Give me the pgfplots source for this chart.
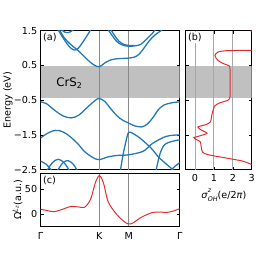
\documentclass[border=0pt]{standalone}
\usepackage{amsmath}
\usepackage{pgfplots}
\pgfplotsset{compat=1.18}
\usepackage{fontspec}
\setmainfont{DejaVu Sans}
\definecolor{bandblue}{HTML}{2277B6}
\definecolor{cred}{HTML}{E22B2B}
\definecolor{gapgray}{HTML}{C0C0C0}
\definecolor{vline}{HTML}{8A8A8A}
\definecolor{gline}{HTML}{A8A8A8}
\begin{document}
\fontsize{9.8}{11}\selectfont
\begin{tikzpicture}
\pgfplotsset{
  myax/.style={scale only axis, anchor=south west, tick align=inside, tick pos=both,
    major tick length=3bp, axis line style={line width=0.8pt},
    every tick/.style={black, line width=0.6pt},
    /pgf/number format/assume math mode=true,
    tick label style={font=\fontsize{9.8}{11}\selectfont},
    label style={font=\fontsize{9.8}{11}\selectfont},
    clip=true},
  band/.style={bandblue, line width=1.3pt, smooth, tension=0.55},
}
% ---------------- (a) band structure
\begin{axis}[myax, at={(41bp,86bp)}, width=141bp, height=141bp,
  xmin=0, xmax=2.366, ymin=-2.5, ymax=1.5,
  xtick={0,1,1.5,2.366}, xticklabels={},
  ytick={-2.5,-1.5,-0.5,0.5,1.5}, yticklabels={−2.5,−1.5,−0.5,0.5,1.5},
  ylabel={Energy (eV)},
  every axis y label/.style={at={(axis description cs:-0.235,0.5)}, rotate=90, anchor=center}]
\addplot[draw=none, fill=gapgray] coordinates {(0,-0.45)(2.366,-0.45)(2.366,0.47)(0,0.47)} -- cycle;
\addplot[vline, line width=0.8pt] coordinates {(1,-2.5)(1,1.5)};
\addplot[vline, line width=0.8pt] coordinates {(1.5,-2.5)(1.5,1.5)};
% conduction bands
\addplot[band] coordinates {(0.30,1.58)(0.4,1.3)(0.5,1.12)(0.6,0.98)(0.7,0.83)(0.8,0.66)(0.9,0.52)(1.0,0.46)(1.1,0.58)(1.2,0.66)(1.3,0.69)(1.4,0.70)(1.5,0.71)(1.6,0.74)(1.68,0.83)(1.76,1.0)(1.85,1.21)(1.95,1.38)(2.05,1.5)(2.1,1.58)};
\addplot[band] coordinates {(0.27,1.6)(0.35,1.38)(0.45,1.12)(0.52,0.99)(0.58,0.94)(0.64,0.99)(0.72,1.17)(0.8,1.38)(0.86,1.55)};
\addplot[band] coordinates {(0.33,1.56)(0.42,1.45)(0.5,1.46)(0.58,1.56)};
\addplot[band] coordinates {(1.12,1.6)(1.2,1.4)(1.3,1.18)(1.4,1.08)(1.5,1.05)(1.6,1.06)(1.7,1.1)(1.8,1.25)(1.9,1.42)(1.96,1.55)};
\addplot[band] coordinates {(1.17,1.6)(1.25,1.38)(1.33,1.2)(1.42,1.1)(1.5,1.07)(1.6,1.07)};
% valence bands
\addplot[band] coordinates {(0,-0.55)(0.1,-0.6)(0.23,-0.78)(0.38,-0.95)(0.52,-1.01)(0.65,-0.93)(0.8,-0.7)(0.92,-0.52)(1.0,-0.45)(1.1,-0.55)(1.19,-0.74)(1.3,-0.95)(1.4,-1.08)(1.5,-1.16)(1.6,-1.24)(1.72,-1.27)(1.82,-1.18)(1.92,-0.98)(2.0,-0.78)(2.1,-0.64)(2.25,-0.57)(2.366,-0.55)};
\addplot[band] coordinates {(0,-1.59)(0.1,-1.47)(0.2,-1.39)(0.31,-1.37)(0.45,-1.48)(0.62,-1.73)(0.75,-1.98)(0.9,-2.16)(1.0,-2.21)(1.15,-2.13)(1.3,-2.09)(1.5,-2.07)(1.745,-1.97)(1.9,-1.75)(2.14,-1.54)(2.366,-1.50)};
\addplot[band] coordinates {(1.35,-2.6)(1.40,-2.1)(1.45,-1.7)(1.5,-1.42)(1.58,-1.47)(1.69,-1.59)(1.88,-1.88)(2.02,-2.16)(2.25,-2.5)(2.3,-2.6)};
\addplot[band] coordinates {(2.366,-1.64)(2.25,-1.68)(2.11,-1.78)(2.03,-2.05)(1.96,-2.55)};
\addplot[band] coordinates {(2.2,-2.55)(2.3,-2.38)(2.366,-2.3)};
\addplot[band] coordinates {(0,-2.25)(0.1,-2.35)(0.2,-2.55)};
\addplot[band] coordinates {(0.1,-2.55)(0.2,-2.3)(0.3,-2.2)(0.4,-2.3)(0.5,-2.55)};
\addplot[band] coordinates {(0.28,-2.55)(0.38,-2.3)(0.47,-2.24)(0.56,-2.35)(0.63,-2.55)};
\node[anchor=north west, fill=white, inner sep=1pt] at (axis description cs:0.01,0.99) {(a)};
\node[font=\fontsize{12}{14}\selectfont] at (axis cs:0.49,0.0) {CrS\textsubscript{2}};
\end{axis}
% ---------------- (b) conductivity
\begin{axis}[myax, at={(188bp,86bp)}, width=67bp, height=141bp,
  xmin=-0.5, xmax=3, ymin=-2.5, ymax=1.5,
  xtick={0,1,2,3}, ytick={-2.5,-1.5,-0.5,0.5,1.5}, yticklabels={},
  xticklabel style={yshift=-1bp},
  xlabel={\textit{σ}\rlap{\raisebox{0.62em}{\fontsize{6.5}{7}\selectfont\textit{z}}}\raisebox{-0.32em}{\fontsize{6.5}{7}\selectfont\textit{OH}}(e/2\textit{π})},
  every axis x label/.style={at={(axis description cs:0.58,-0.185)}, anchor=center}]
\addplot[draw=none, fill=gapgray] coordinates {(-0.5,-0.45)(3,-0.45)(3,0.47)(-0.5,0.47)} -- cycle;
\addplot[gline, line width=1pt] coordinates {(0,-2.5)(0,1.5)};
\addplot[gline, line width=1pt] coordinates {(1,-2.5)(1,1.5)};
\addplot[gline, line width=1pt] coordinates {(2,-2.5)(2,1.5)};
\addplot[cred, line width=1pt, smooth, tension=0.4] coordinates {
(3.5,0.95)(2.95,0.93)(2.5,0.93)(1.6,0.92)(1.2,0.88)(1.05,0.78)(1.2,0.65)(1.5,0.55)(1.8,0.49)(1.85,0.4)(1.86,0)(1.85,-0.4)(1.75,-0.5)(1.3,-0.58)(1.05,-0.66)(0.95,-0.8)(0.88,-0.95)(0.82,-1.12)(0.6,-1.2)(0.15,-1.27)(0.3,-1.35)(0.63,-1.45)(0.3,-1.52)(-0.07,-1.58)(0.1,-1.64)(0.28,-1.70)(0.33,-1.85)(0.4,-2.0)(0.7,-2.07)(1.5,-2.15)(2.5,-2.25)(3.0,-2.35)(3.3,-2.4)};
\addplot[cred, line width=1pt] coordinates {(3.2,1.56)(2.96,1.49)(3.2,1.42)};
\node[anchor=north west, fill=white, inner sep=1pt] at (axis description cs:0.02,0.99) {(b)};
\end{axis}
% ---------------- (c) Berry curvature
\begin{axis}[myax, at={(41bp,29bp)}, width=141bp, height=53bp,
  xmin=0, xmax=2.366, ymin=-24, ymax=82,
  xtick={0,1,1.5,2.366}, xticklabels={Γ,K,M,Γ},
  xticklabel style={yshift=-3bp},
  ytick={0,50},
  ylabel={Ω$^{\textit{L}_{\textit{z}}}$(a.u.)},
  every axis y label/.style={at={(axis description cs:-0.165,0.5)}, rotate=90, anchor=center}]
\addplot[vline, line width=0.8pt] coordinates {(1,-24)(1,82)};
\addplot[vline, line width=0.8pt] coordinates {(1.5,-24)(1.5,82)};
\addplot[cred, line width=1pt, smooth, tension=0.5] coordinates {
(0,10)(0.1,7.5)(0.23,5)(0.38,10)(0.51,15.5)(0.65,14.5)(0.75,14)(0.85,30)(0.93,63)(1.0,78)(1.07,63)(1.15,25)(1.29,0)(1.4,-13)(1.49,-20)(1.57,-18)(1.72,-6)(1.91,3.5)(2.05,4)(2.15,3.5)(2.25,6)(2.366,11)};
\node[anchor=north west, fill=white, inner sep=1pt] at (axis description cs:0.01,0.98) {(c)};
\end{axis}
\path[use as bounding box] (0,0) rectangle (258bp,258bp);
\end{tikzpicture}
\end{document}
